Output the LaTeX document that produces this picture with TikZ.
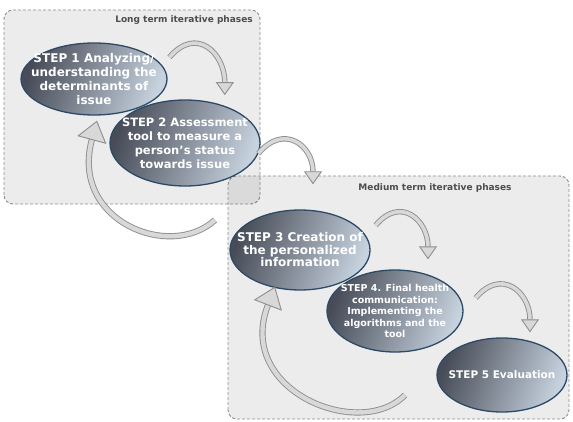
\documentclass[tikz,border=0pt]{standalone}
\usepackage{fontspec}
\setmainfont{DejaVu Sans}
\usetikzlibrary{shapes.geometric,arrows.meta}
\definecolor{boxline}{HTML}{8C8C8C}
\definecolor{titlegray}{HTML}{4D4D4D}
\definecolor{stepdark}{HTML}{474C58}
\definecolor{steplight}{HTML}{C6D2DE}
\definecolor{stepedge}{HTML}{2C4A66}
\definecolor{arrowline}{HTML}{8E8E8E}
\definecolor{arrowfill}{HTML}{D8D8D8}
\tikzset{
  phasebox/.style={draw=boxline, line width=0.9pt, dash pattern=on 3pt off 2pt, rounded corners=9pt, fill=black, fill opacity=0.075},
  phasetitle/.style={font=\bfseries\fontsize{9}{11}\selectfont, text=titlegray, inner sep=0pt},
  stepbox/.style={ellipse, draw=stepedge, line width=1.3pt, left color=stepdark, right color=steplight, shading angle=70, inner sep=0pt},
  steptext/.style={align=center, text=white, inner sep=0pt},
  turnarrow/.style={draw=arrowline, line width=0.9pt, double=arrowfill, double distance=3.6pt, -{Triangle[width=18pt, length=13pt, fill=arrowfill, line width=0.9pt]}},
  backarrow/.style={turnarrow, double distance=4.4pt, -{Triangle[width=30pt, length=20pt, fill=arrowfill, line width=0.9pt]}}
}
\begin{document}
\begin{tikzpicture}[x=1pt,y=1pt]
\useasboundingbox (0,0) rectangle (573,421);
% phase frames
\draw[phasebox] (4,217) rectangle (260,411);
\draw[phasebox] (228,2) rectangle (569,245);
\node[phasetitle, anchor=east] (longtitle) at (253,401) {Long term iterative phases};
\node[phasetitle] (midtitle) at (435,233) {Medium term iterative phases};

% steps
\node[stepbox, minimum width=146pt, minimum height=72pt,
  label={[steptext, font=\bfseries\fontsize{12}{14}\selectfont]center:{STEP 1 Analyzing/\\understanding the\\determinants of\\issue}}] (step1) at (94,342) {};
\node[stepbox, minimum width=150pt, minimum height=86pt,
  label={[steptext, font=\bfseries\fontsize{11.5}{14}\selectfont]center:{STEP 2 Assessment\\tool to measure a\\person's status\\towards issue}}] (step2) at (185,278) {};
\node[stepbox, minimum width=140pt, minimum height=80pt,
  label={[steptext, font=\bfseries\fontsize{12}{12.5}\selectfont]center:{STEP 3 Creation of\\the personalized\\information}}] (step3) at (300,171) {};
\node[stepbox, minimum width=136pt, minimum height=82pt,
  label={[steptext, font=\bfseries\fontsize{9.5}{11.5}\selectfont]center:{STEP 4. Final health\\communication:\\Implementing the\\algorithms and the\\tool}}] (step4) at (395,110) {};
\node[stepbox, minimum width=130pt, minimum height=74pt,
  label={[steptext, font=\bfseries\fontsize{10.5}{12}\selectfont]center:{STEP 5 Evaluation}}] (step5) at (502,46) {};

% forward arrows
\draw[turnarrow] ([xshift=16pt]step1.20) to[out=50, in=90, looseness=1.6] ([shift={(2pt,10pt)}]step2.45);
\draw[turnarrow] (step2.-8) to[out=50, in=90, looseness=1.6] ([shift={(13pt,25pt)}]step3.north);
\draw[turnarrow] ([shift={(16pt,3pt)}]step3.20) to[out=50, in=90, looseness=1.6] ([shift={(33pt,10pt)}]step4.north);
\draw[turnarrow] ([shift={(12pt,13pt)}]step4.east) to[out=50, in=90, looseness=1.6] ([shift={(28pt,5pt)}]step5.north);

% loops back
\coordinate (back12) at (215,201);
\coordinate (back35) at (405,26);
\draw[backarrow] (back12) .. controls (170,160) and (70,200) .. ([shift={(3pt,-5pt)}]step1.south);
\draw[backarrow] (back35) .. controls (360,-20) and (235,30) .. ([shift={(-25pt,4pt)}]step3.south);
\end{tikzpicture}
\end{document}
